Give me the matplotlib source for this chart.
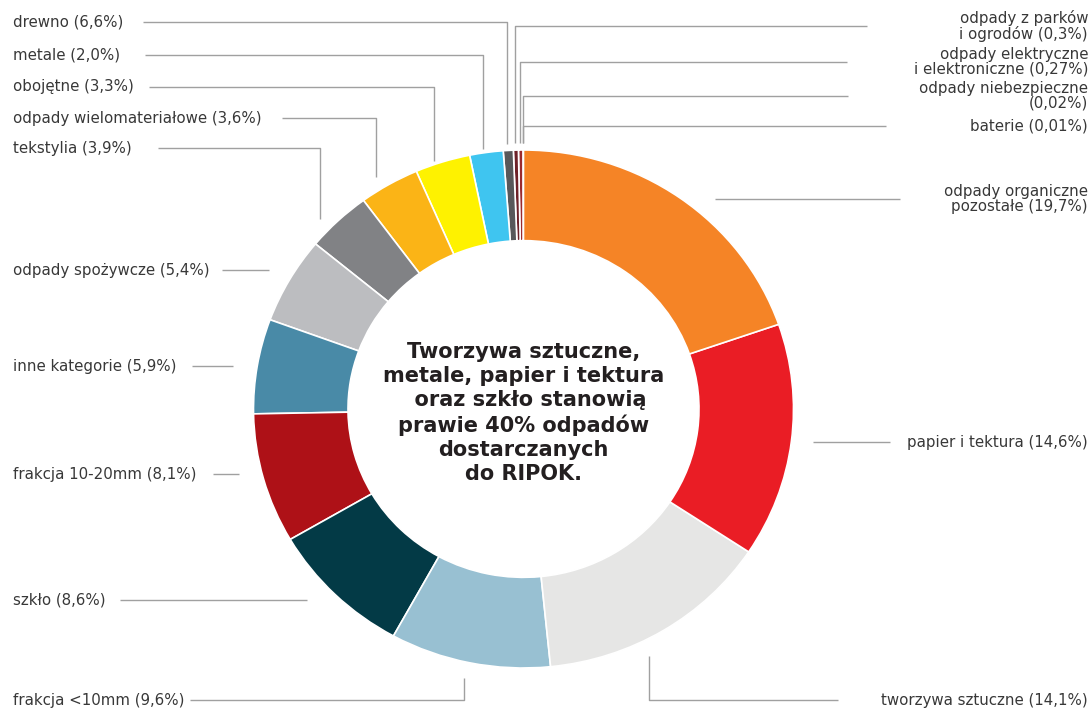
import numpy as np
import matplotlib
matplotlib.use("Agg")
import matplotlib.pyplot as plt

# slices in counter-clockwise order starting at 12 o'clock
LABELS = [
    "baterie (0,01%)",
    "odpady niebezpieczne\n(0,02%)",
    "odpady elektryczne\ni elektroniczne (0,27%)",
    "odpady z parków\ni ogrodów (0,3%)",
    "drewno (6,6%)",
    "metale (2,0%)",
    "obojętne (3,3%)",
    "odpady wielomateriałowe (3,6%)",
    "tekstylia (3,9%)",
    "odpady spożywcze (5,4%)",
    "inne kategorie (5,9%)",
    "frakcja 10-20mm (8,1%)",
    "szkło (8,6%)",
    "frakcja <10mm (9,6%)",
    "tworzywa sztuczne (14,1%)",
    "papier i tektura (14,6%)",
    "odpady organiczne\npozostałe (19,7%)",
]
VALUES = [0.01, 0.02, 0.27, 0.3, 0.6, 2.0, 3.3, 3.6, 3.9, 5.4, 5.9, 8.1, 8.6, 9.6, 14.1, 14.6, 19.7]
COLORS = [
    "#c9a58e", "#d4502a", "#9b2a2e", "#6e2128", "#58585a",
    "#3fc5f0", "#fef200", "#fbb416", "#818285", "#bcbdc0",
    "#498aa7", "#ae1117", "#033a46", "#98c0d2", "#e6e6e5",
    "#ea1d25", "#f58426",
]
CENTER_TEXT = ("Tworzywa sztuczne,\nmetale, papier i tektura\n  oraz szkło stanowią\n"
               "prawie 40% odpadów\ndostarczanych\ndo RIPOK.")

# label layout in pixels: text x, text y, alignment, outer line end, leader kind, gap, reach
LAYOUT = [
    (1088, 126, "right", 886, "v", 7, 1.1),
    (1088, 96, "right", 848, "v", 7, 1.1),
    (1088, 62, "right", 847, "v", 7, 1.1),
    (1088, 26, "right", 867, "v", 7, 1.1),
    (13, 22, "left", 143, "v", 7, 1.1),
    (13, 55, "left", 145, "v", 4, 1.1),
    (13, 87, "left", 149, "v", 4, 1.1),
    (13, 118, "left", 282, "v", 15, 1.1),
    (13, 148, "left", 158, "v", 20, 1.1),
    (13, 270, "left", 222, "h", 27, 1.0),
    (13, 366, "left", 192, "h", 24, 1.0),
    (13, 474, "left", 213, "h", 23, 1.0),
    (13, 600, "left", 120, "h", 34, 1.0),
    (13, 700, "left", 190, "v", 16, 1.1),
    (1088, 700, "right", 838, "v", 18, 0.9),
    (1088, 442, "right", 890, "h", 22, 1.0),
    (1088, 199, "right", 900, "h", 33, 1.0),
]

W, H = 1091, 710
CX, CY, RX, RY = 523.5, 409, 270, 259

fig = plt.figure(figsize=(W / 100, H / 100), dpi=100, facecolor="white")

# donut in its own axes so the ring can be slightly elliptical like the source
pie_ax = fig.add_axes([(CX - RX) / W, (H - CY - RY) / H, 2 * RX / W, 2 * RY / H])
pie_ax.pie(VALUES, colors=COLORS, startangle=90, counterclock=True, radius=1,
           wedgeprops=dict(width=0.35, edgecolor="white", linewidth=1.2))
pie_ax.set_aspect("auto")
pie_ax.set_xlim(-1, 1)
pie_ax.set_ylim(-1, 1)
pie_ax.axis("off")

ax = fig.add_axes([0, 0, 1, 1])
ax.set_xlim(0, W)
ax.set_ylim(H, 0)
ax.axis("off")
ax.patch.set_alpha(0)

values = np.array(VALUES)
cum = np.cumsum(values) / values.sum()
mid = np.radians(360 * (cum - values / values.sum() / 2))

line_kw = dict(color="#a0a0a0", linewidth=1.0, solid_capstyle="butt")
for label, theta, (tx, ty, ha, lx, kind, gap, reach) in zip(LABELS, mid, LAYOUT):
    ax.text(tx, ty, label, ha=ha, va="center", fontsize=10.8, color="#383838",
            multialignment="right" if ha == "right" else "left", linespacing=1.0)
    if kind == "h":
        dx = RX * np.sqrt(max(0.0, 1 - ((ty - CY) / RY) ** 2))
        x_end = CX - dx - gap if ha == "left" else CX + dx + gap
        ax.plot([lx, x_end], [ty, ty], **line_kw)
    else:
        xv = CX - reach * RX * np.sin(theta)
        dy = RY * np.sqrt(max(0.0, 1 - ((xv - CX) / RX) ** 2))
        y_end = CY - dy - gap if ty < CY else CY + dy + gap
        ax.plot([lx, xv, xv], [ty, ty, y_end], **line_kw)

ax.text(CX, 413, CENTER_TEXT, ha="center", va="center", fontsize=15,
        fontweight="bold", color="#231f20", multialignment="center",
        linespacing=1.25)

fig.savefig("out.png", dpi=100, facecolor="white")
